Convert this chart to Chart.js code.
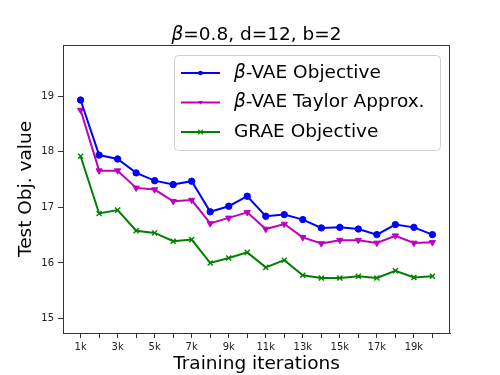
<!DOCTYPE html>
<html>
<head>
<meta charset="utf-8">
<script src="https://cdn.jsdelivr.net/npm/chart.js@4.4.1/dist/chart.umd.min.js"></script>
<style>
  html, body { margin: 0; padding: 0; background: #fff; }
  canvas { display: block; }
</style>
</head>
<body>
<canvas id="chart" width="500" height="375"></canvas>
<script>
// training iterations, in thousands
const iterK = [1, 2, 3, 4, 5, 6, 7, 8, 9, 10, 11, 12, 13, 14, 15, 16, 17, 18, 19, 20];
const yTicks = [15, 16, 17, 18, 19];

// test objective values
const betaVae = [18.93, 17.94, 17.87, 17.62, 17.48, 17.41, 17.47, 16.92, 17.02, 17.20,
                 16.84, 16.87, 16.78, 16.63, 16.64, 16.61, 16.51, 16.69, 16.64, 16.51];
const betaTaylor = [18.75, 17.66, 17.66, 17.35, 17.32, 17.11, 17.13, 16.71, 16.81, 16.91,
                    16.61, 16.70, 16.46, 16.35, 16.41, 16.41, 16.36, 16.49, 16.36, 16.37];
const grae = [17.92, 16.89, 16.95, 16.58, 16.54, 16.39, 16.42, 16.00, 16.09, 16.19,
              15.92, 16.05, 15.78, 15.73, 15.73, 15.76, 15.73, 15.86, 15.74, 15.76];

const FONT = "'DejaVu Sans', sans-serif";

const series = [
  { greek: 'β', text: '-VAE Objective', data: betaVae, color: '#0000ff', marker: 'circle' },
  { greek: 'β', text: '-VAE Taylor Approx.', data: betaTaylor, color: '#bf00bf', marker: 'triangle' },
  { greek: '', text: 'GRAE Objective', data: grae, color: '#008000', marker: 'crossRot' },
];

function drawMarker(ctx, kind, x, y, r, color) {
  ctx.save();
  ctx.fillStyle = color;
  ctx.strokeStyle = color;
  ctx.lineWidth = 1.2;
  ctx.beginPath();
  if (kind === 'circle') {
    ctx.arc(x, y, r, 0, Math.PI * 2);
    ctx.fill();
  } else if (kind === 'triangle') {
    ctx.moveTo(x - r, y - r * 0.7);
    ctx.lineTo(x + r, y - r * 0.7);
    ctx.lineTo(x, y + r);
    ctx.closePath();
    ctx.fill();
  } else {
    ctx.moveTo(x - r, y - r); ctx.lineTo(x + r, y + r);
    ctx.moveTo(x + r, y - r); ctx.lineTo(x - r, y + r);
    ctx.stroke();
  }
  ctx.restore();
}

// title with italic beta, top/right spines, and the in-plot legend
const decorations = {
  id: 'decorations',
  afterDraw(chart) {
    const ctx = chart.ctx;
    const a = chart.chartArea;

    // frame
    ctx.save();
    ctx.strokeStyle = '#333';
    ctx.lineWidth = 1;
    ctx.strokeRect(a.left + 0.5, a.top + 0.5, a.right - a.left - 1, a.bottom - a.top);
    ctx.restore();

    // title
    ctx.save();
    ctx.fillStyle = '#000';
    ctx.textBaseline = 'alphabetic';
    const italic = 'italic 18.5px ' + FONT;
    const normal = '18.5px ' + FONT;
    const rest = '=0.8, d=12, b=2';
    ctx.font = italic;
    const wb = ctx.measureText('β').width;
    ctx.font = normal;
    const wr = ctx.measureText(rest).width;
    let tx = (a.left + a.right) / 2 - (wb + wr) / 2;
    ctx.font = italic;
    ctx.fillText('β', tx, 40);
    ctx.font = normal;
    ctx.fillText(rest, tx + wb, 40);
    ctx.restore();

    // legend
    ctx.save();
    const bx = 174.5, by = 55.5, bw = 266, bh = 95;
    ctx.fillStyle = 'rgba(255,255,255,0.85)';
    ctx.strokeStyle = '#d0d0d0';
    ctx.lineWidth = 1;
    ctx.beginPath();
    ctx.roundRect(bx, by, bw, bh, 4);
    ctx.fill();
    ctx.stroke();
    const rows = [73, 102.5, 132];
    series.forEach((s, i) => {
      const y = rows[i];
      ctx.strokeStyle = s.color;
      ctx.lineWidth = 2;
      ctx.beginPath();
      ctx.moveTo(181, y);
      ctx.lineTo(220, y);
      ctx.stroke();
      drawMarker(ctx, s.marker, 200.5, y, 2.3, s.color);
      ctx.fillStyle = '#000';
      ctx.textBaseline = 'middle';
      let x = 234;
      if (s.greek) {
        ctx.font = 'italic 18.5px ' + FONT;
        ctx.fillText(s.greek, x, y);
        x += ctx.measureText(s.greek).width;
      }
      ctx.font = '18.5px ' + FONT;
      ctx.fillText(s.text, x, y);
    });
    ctx.restore();
  }
};

const datasets = series.map(s => ({
  label: s.greek + s.text,
  data: s.data.map((v, i) => ({ x: iterK[i], y: v })),
  borderColor: s.color,
  backgroundColor: s.color,
  pointBackgroundColor: s.color,
  pointBorderColor: s.color,
  borderWidth: 2,
  pointStyle: s.marker,
  pointRotation: s.marker === 'triangle' ? 180 : 0,
  pointRadius: s.marker === 'circle' ? 3.2 : 3.6,
  pointBorderWidth: s.marker === 'crossRot' ? 1.4 : 1,
  tension: 0,
}));

new Chart(document.getElementById('chart'), {
  type: 'line',
  data: { datasets },
  options: {
    responsive: false,
    animation: false,
    layout: { padding: { top: 45, right: 50, left: 0, bottom: 0 } },
    plugins: { legend: { display: false }, tooltip: { enabled: false } },
    scales: {
      x: {
        type: 'linear',
        min: 0.05,
        max: 20.95,
        afterBuildTicks: ax => { ax.ticks = iterK.map(v => ({ value: v })); },
        afterFit: ax => { ax.height = 42; },
        ticks: {
          autoSkip: false,
          maxRotation: 0,
          padding: 3,
          color: '#222',
          font: { family: FONT, size: 10 },
          callback: v => (v % 2 === 1 ? v + 'k' : ''),
        },
        grid: { drawOnChartArea: false, tickLength: 5, color: '#333' },
        border: { color: '#333', width: 1 },
        title: {
          display: true,
          text: 'Training iterations',
          color: '#000',
          font: { family: FONT, size: 18.5 },
          padding: { top: 0, bottom: 0 },
        },
      },
      y: {
        min: 14.74,
        max: 19.92,
        afterBuildTicks: ax => { ax.ticks = yTicks.map(v => ({ value: v })); },
        afterFit: ax => { ax.width = 63; },
        ticks: {
          padding: 4,
          color: '#222',
          font: { family: FONT, size: 10 },
        },
        grid: { drawOnChartArea: false, tickLength: 5, color: '#333' },
        border: { color: '#333', width: 1 },
        title: {
          display: true,
          text: 'Test Obj. value',
          color: '#000',
          font: { family: FONT, size: 18.5 },
          padding: { top: 15.5, bottom: 0 },
        },
      },
    },
  },
  plugins: [decorations],
});
</script>
</body>
</html>
